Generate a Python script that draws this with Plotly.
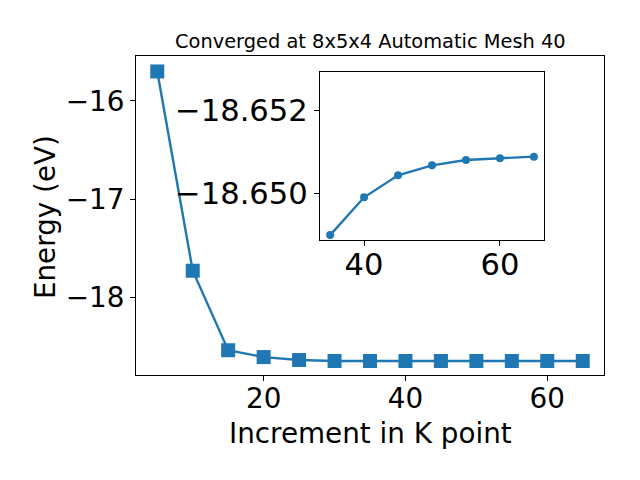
import plotly.graph_objects as go

# Main data
k_main = [5, 10, 15, 20, 25, 30, 35, 40, 45, 50, 55, 60, 65]
e_main = [-15.70, -17.73, -18.54, -18.61, -18.64, -18.65, -18.65, -18.65, -18.65, -18.65, -18.65, -18.65, -18.65]

# Inset data
k_inset = [35, 40, 45, 50, 55, 60, 65]
e_inset = [-18.64899, -18.64990, -18.65043, -18.65067, -18.65080, -18.65084, -18.65088]

main_xticks = [20, 40, 60]
main_yticks = [-16, -17, -18]
main_yticktext = ["\u221216", "\u221217", "\u221218"]
inset_xticks = [40, 60]
inset_yticks = [-18.652, -18.650]
inset_yticktext = ["\u221218.652", "\u221218.650"]

title_text = "Converged at 8x5x4 Automatic Mesh 40"
xlabel = "Increment in K point"
ylabel = "Energy (eV)"

C = "#1f77b4"
FONT = "DejaVu Sans"

fig = go.Figure()
fig.add_trace(go.Scatter(x=k_main, y=e_main, mode="lines+markers",
                         line=dict(color=C, width=2.4),
                         marker=dict(symbol="square", size=14, color=C),
                         xaxis="x", yaxis="y", showlegend=False))
fig.add_trace(go.Scatter(x=k_inset, y=e_inset, mode="lines+markers",
                         line=dict(color=C, width=2.4),
                         marker=dict(symbol="circle", size=8, color=C),
                         xaxis="x2", yaxis="y2", showlegend=False))

axis_common = dict(showline=True, mirror=True, linecolor="black", linewidth=1.1,
                   ticks="outside", ticklen=5, tickwidth=1.1, tickcolor="black",
                   showgrid=False, zeroline=False)

fig.update_layout(
    width=640, height=480,
    margin=dict(l=128, r=44, t=48, b=113),
    paper_bgcolor="white", plot_bgcolor="white",
    font=dict(family=FONT, color="black"),
    xaxis=dict(domain=[0, 1], range=[2, 68], tickvals=main_xticks,
               tickfont=dict(size=27.8), ticklabelstandoff=-6, anchor="y", **axis_common),
    yaxis=dict(domain=[0, 1], range=[-18.7925, -15.5425], tickvals=main_yticks,
               ticktext=main_yticktext, tickfont=dict(size=27.8), anchor="x", **axis_common),
    xaxis2=dict(domain=[0.393, 0.872], range=[33.5, 66.5], tickvals=inset_xticks,
                tickfont=dict(size=30.6), ticklabelstandoff=-8, anchor="y2", **axis_common),
    yaxis2=dict(domain=[0.423, 0.950], range=[-18.64887, -18.65292], tickvals=inset_yticks,
                ticktext=inset_yticktext, tickfont=dict(size=30.6), anchor="x2", **axis_common),
    annotations=[
        dict(text=title_text, xref="paper", yref="paper", x=0.5, y=(375 - 41) / 319,
             xanchor="center", yanchor="middle", showarrow=False, font=dict(size=19.4)),
        dict(text=xlabel, xref="paper", yref="paper", x=0.5, y=(375 - 433) / 319,
             xanchor="center", yanchor="middle", showarrow=False, font=dict(size=27.8)),
        dict(text=ylabel, xref="paper", yref="paper", x=(45 - 136) / 468, y=0.495,
             xanchor="center", yanchor="middle", showarrow=False, textangle=-90,
             font=dict(size=27.8)),
    ],
)

fig.write_html("out.html")
